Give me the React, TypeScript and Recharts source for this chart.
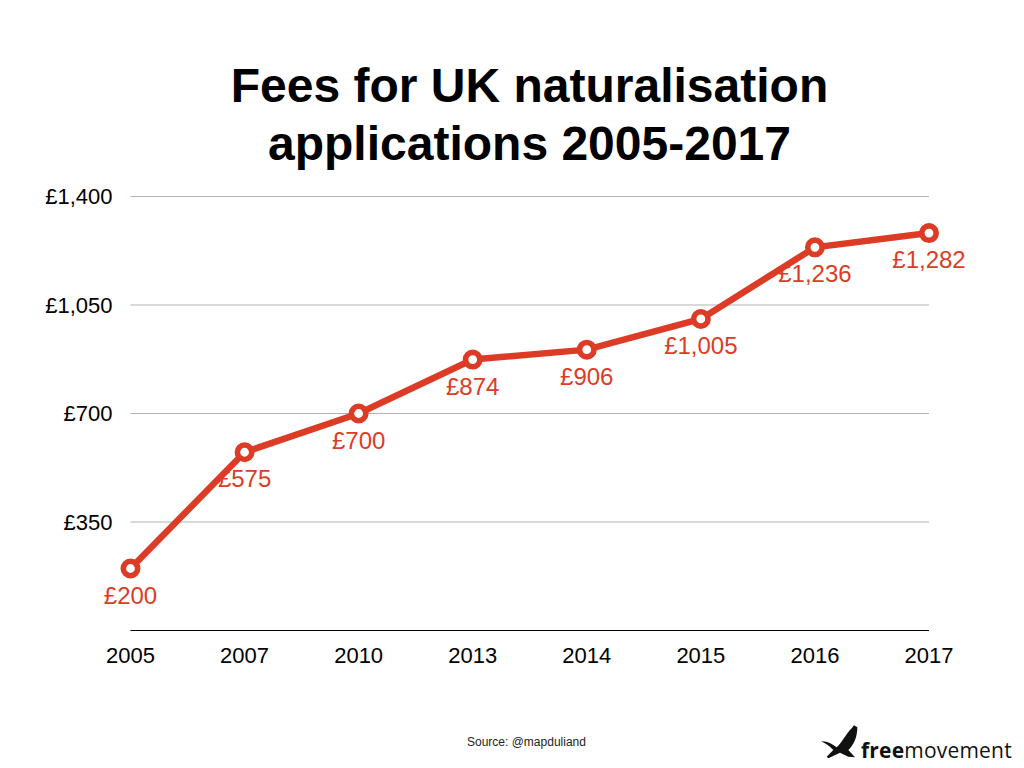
import React from "react";
import { LineChart, Line, XAxis, YAxis, CartesianGrid, LabelList } from "recharts";

const years = ["2005", "2007", "2010", "2013", "2014", "2015", "2016", "2017"];
const fees = [200, 575, 700, 874, 906, 1005, 1236, 1282];
const yTicks = [0, 350, 700, 1050, 1400];
const titleLines = ["Fees for UK naturalisation", "applications 2005-2017"];
const data = years.map((year, i) => ({ year, fee: fees[i] }));

const FONT = '"Liberation Sans", Arial, sans-serif';
const RED = "#dc3c26";
const money = (v: number) => "£" + v.toLocaleString("en-GB");

const Dot = (props: any) => (
  <circle cx={props.cx} cy={props.cy} r={7.2} fill="#fff" stroke={RED} strokeWidth={5.6} />
);

export default function App() {
  return (
    <div style={{ position: "absolute", left: 0, top: 0, width: 1024, height: 768, background: "#fff", overflow: "hidden", fontFamily: FONT }}>
      <div style={{ position: "absolute", left: 0, top: 57, width: 1059, textAlign: "center", fontWeight: 700, fontSize: 48, lineHeight: "58px", color: "#000" }}>
        {titleLines.map((t) => <div key={t}>{t}</div>)}
      </div>
      <LineChart width={1024} height={768} data={data} margin={{ top: 196.5, right: 95, bottom: 0, left: 0 }} style={{ position: "absolute", left: 0, top: 0 }}>
        <CartesianGrid horizontal vertical={false} stroke="#b3b3b3" strokeWidth={1} />
        <XAxis dataKey="year" scale="point" padding={{ left: 0, right: 0 }} interval={0} tickLine={false} axisLine={{ stroke: "#000", strokeWidth: 1.2 }} tick={{ fill: "#000", fontSize: 22, fontFamily: FONT }} tickMargin={11} height={137.5} />
        <YAxis domain={[0, 1400]} ticks={yTicks} width={130.5} tickLine={false} axisLine={false} tick={{ fill: "#000", fontSize: 22, fontFamily: FONT }} tickMargin={12} tickFormatter={(v: number) => (v === 0 ? "" : money(v))} />
        <Line type="linear" dataKey="fee" stroke={RED} strokeWidth={6.5} dot={<Dot />} isAnimationActive={false}>
          <LabelList dataKey="fee" position="bottom" offset={18} formatter={(v: number) => money(v)} style={{ fill: RED, fontSize: 24, fontFamily: FONT }} />
        </Line>
      </LineChart>
      <div style={{ position: "absolute", left: 467, top: 735, fontSize: 12, color: "#222" }}>Source: @mapduliand</div>
      <svg width={244} height={68} viewBox="0 0 732 204" style={{ position: "absolute", left: 780, top: 700 }}>
        <path d="M122 124 C140 122 155 130 170 142 C185 130 195 105 215 85 L222 76 L232 82 C232 110 222 135 205 150 L225 172 L205 170 L180 158 L145 175 L140 170 L160 150 C150 140 135 128 122 124 Z" fill="#111" />
      </svg>
      <div style={{ position: "absolute", left: 861, top: 736, fontFamily: '"Open Sans", sans-serif', fontSize: 21, lineHeight: "28px", color: "#111", letterSpacing: 0.2 }}>
        <b>free</b><span style={{ fontWeight: 400 }}>movement</span>
      </div>
    </div>
  );
}
